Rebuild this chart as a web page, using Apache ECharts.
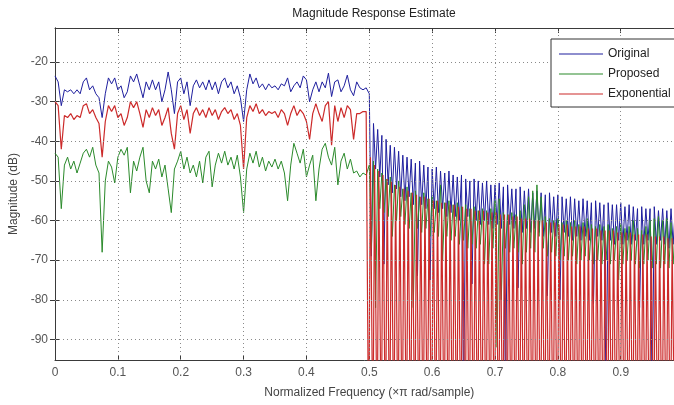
<!DOCTYPE html>
<html>
<head>
<meta charset="utf-8">
<script src="https://cdn.jsdelivr.net/npm/echarts@6/dist/echarts.min.js"></script>
<style>
html,body{margin:0;padding:0;background:#fff}
#chart{width:674px;height:405px}
</style>
</head>
<body>
<div id="chart"></div>
<script>
// Passband samples every PASS_STEP (normalized frequency 0 .. 0.495)
const PASS_STEP = 0.005;
// Stopband: sidelobe period and start frequency; red nulls fall below the axis floor
const STOP_START = 0.5;
const LOBE = 1 / 150;
const NULL_DB = -120;

// Magnitude (dB), passband
const origPass = [
  -23.5,-25,-31,-27,-27.5,-27,-28,-27,-28,-25,
  -24,-27,-26,-28,-29,-34,-28,-24,-25.5,-24,
  -27,-26,-29,-27.5,-23.5,-25,-23,-26,-29,-25,
  -27,-24.5,-27,-25,-30,-27,-22.5,-27,-33,-25,
  -24,-28,-25,-31,-26,-24.5,-26.5,-25,-27,-24.5,
  -27,-25,-28,-25,-24,-26.5,-25,-28,-26,-29,
  -35,-27,-23,-25.5,-24,-26.5,-25.5,-27,-25.5,-26.5,
  -26,-27,-25.5,-26,-24,-27.5,-26,-25,-26.5,-23.5,
  -24.5,-30,-27,-25,-27.5,-25,-26.5,-22.8,-28.7,-25,
  -24.5,-27.5,-26,-23.3,-27,-28.5,-25,-26.5,-27,-26.5
];
const propPass = [
  -43,-44,-57,-46,-44,-47,-45,-48,-45.5,-43,
  -42,-44,-41.5,-46,-48,-68,-50,-45,-46.5,-50.5,
  -44,-42,-43.5,-41.5,-53,-45,-47.5,-44,-41.5,-50,
  -53,-45,-47,-44.5,-49,-46,-52,-58,-47,-45,
  -42.5,-47,-44,-48,-46,-49,-45,-50.5,-44,-42.5,
  -51.5,-46,-43,-45.5,-42.5,-46,-44,-47,-43.5,-49,
  -58,-47,-43,-45.5,-42.5,-46.5,-44,-47.5,-45,-46.5,
  -44.5,-47,-45,-48,-55,-46,-40.5,-43,-45.5,-42,
  -49,-46,-43.5,-55,-47,-42,-40.5,-44,-46,-41.5,
  -51,-45,-43,-47,-44.5,-48,-47.5,-49,-48,-48.5
];
const expPass = [
  -30,-31,-42,-33.5,-34,-33,-34.5,-33.5,-34,-31,
  -30.5,-33,-32,-34,-35.5,-44,-35,-31,-32.5,-31,
  -34,-33,-36,-34,-30,-31.5,-30,-33,-36.5,-32,
  -34,-31.5,-33.5,-32,-36,-34,-31.5,-38,-42,-33,
  -31,-34.5,-32,-38,-33,-31.5,-33.5,-32,-34,-31.5,
  -33.5,-32,-34.5,-32.5,-31.5,-33,-32,-34.5,-33,-36,
  -47,-34,-31,-32.5,-30.5,-33,-32,-33.5,-32.5,-33,
  -32.5,-34,-32,-33,-36,-33,-31,-33.5,-32,-33,
  -35,-39.5,-33,-30.5,-33,-35,-31,-30,-41,-31,
  -35,-31.5,-34,-31,-32,-39.5,-33,-33,-32.5,-32.5
];

// Stopband: lobe tops at STOP_START + k*LOBE, dips at STOP_START + (k+0.5)*LOBE
const origPeaks = [
  -28,-35.5,-37,-38.5,-39.5,-41,-41.5,-42.5,-43.5,-44,
  -44.5,-45.5,-45,-46,-46.5,-47,-46.5,-47.5,-48,-47.5,
  -48.5,-49,-48.5,-49.5,-50,-49.5,-50,-50.5,-50,-51,
  -51,-50.5,-51.5,-51,-52,-52,-51.5,-52.5,-52,-53,
  -52.5,-53,-53.5,-53,-54,-53.5,-54,-54.5,-54,-54.5,
  -55,-54.5,-55,-55.5,-55,-55.5,-56,-55.5,-56,-56,
  -55.5,-56.5,-56,-56.5,-57,-56.5,-57,-57,-56.5,-57.5,
  -57,-57.5,-57,-57.5,-58,-57.5
];
const origDips = [
  -69,-47,-49,-71,-51,-53,-52,-54,-55,-54,
  -56,-74,-56,-57,-75,-57,-58,-57,-59,-58,
  -59,-60,-105,-59,-76,-60,-61,-60,-61,-62,
  -61,-62,-105,-61,-62,-77,-63,-62,-63,-62,
  -63,-64,-79,-63,-64,-80,-63,-64,-65,-64,
  -65,-64,-65,-81,-64,-65,-105,-65,-66,-65,
  -66,-65,-66,-65,-82,-66,-65,-105,-66,-65,
  -66,-67,-66,-65,-66
];
const propPeaks = [
  -46,-45,-47,-48,-49.5,-49,-51,-50,-52,-51.5,
  -53,-52.5,-54,-53,-54.5,-54,-55,-51,-55.5,-55,
  -56,-55.5,-56.5,-56,-57,-56.5,-57.5,-57,-57.5,-57,
  -55,-54.5,-58,-58.5,-58,-58.5,-57.5,-56,-54,-52.5,
  -51,-54,-59,-59.5,-60,-59.5,-60.5,-60,-60.5,-60,
  -61,-60.5,-59.5,-61,-61.5,-61,-61.5,-61,-62,-61.5,
  -61,-62,-61.5,-60,-62,-62.5,-61.5,-60,-59.5,-59,
  -60,-59.5,-60.5,-61.5,-62.5,-62
];
const propDips = [
  -67,-82,-57,-58,-59,-64,-60,-59,-61,-62,
  -82,-62,-63,-62,-64,-63,-64,-70,-64,-65,
  -64,-66,-65,-67,-66,-67,-66,-71,-71,-67,
  -92,-80,-67,-68,-67,-68,-71,-68,-67,-68,
  -64,-67,-69,-68,-69,-70,-69,-70,-69,-71,
  -70,-69,-70,-71,-70,-71,-70,-71,-70,-75,
  -71,-70,-70,-71,-72,-71,-70,-72,-71,-72,
  -71,-72,-71,-72,-85
];
// Exponential: top of each lobe between nulls at STOP_START + k*LOBE
const expLobes = [
  -44,-46,-47.5,-48.5,-49.5,-50,-51,-51.5,-52,-52.5,
  -53,-53.5,-54,-54,-54.5,-55,-55,-55.5,-55.5,-56,
  -56,-56.5,-56.5,-57,-57,-57.5,-57.5,-57.5,-58,-58,
  -58,-58.5,-58.5,-58.5,-59,-59,-59.5,-59.5,-59.5,-60,
  -60,-60,-60.5,-60.5,-60.5,-61,-61,-61,-61.5,-61.5,
  -61.5,-61.5,-62,-62,-62,-62.5,-62.5,-62.5,-62.5,-63,
  -63,-63,-63,-63.5,-63.5,-63.5,-63.5,-64,-64,-64,
  -64,-64.5,-64.5,-64.5,-64.5
];

const yTicks = [-90, -80, -70, -60, -50, -40, -30, -20];
const xGrid = [0.1, 0.2, 0.3, 0.4, 0.5, 0.6, 0.7, 0.8, 0.9];

function passPoints(vals) {
  return vals.map((v, i) => [+(i * PASS_STEP).toFixed(4), v]);
}
// alternating lobe tops and dips
function zigzag(pass, peaks, dips) {
  const pts = passPoints(pass);
  peaks.forEach((p, k) => {
    pts.push([STOP_START + k * LOBE, p]);
    if (k < dips.length) pts.push([STOP_START + (k + 0.5) * LOBE, dips[k]]);
  });
  return pts;
}
// flat lobe tops separated by narrow deep nulls
function lobes(pass, tops) {
  const pts = passPoints(pass);
  const n = tops.length;
  for (let k = 0; k <= n; k++) {
    const x0 = STOP_START + k * LOBE;
    if (k > 0) pts.push([x0 - 0.27 * LOBE, tops[k - 1]]);
    pts.push([x0 - 0.14 * LOBE, NULL_DB]);
    pts.push([x0 + 0.14 * LOBE, NULL_DB]);
    if (k < n) pts.push([x0 + 0.27 * LOBE, tops[k]]);
  }
  return pts;
}

const FONT = '"Liberation Sans", Arial, sans-serif';
const AX = '#3a3a3a';
const LBL = '#555';

const lineSeries = (name, color, data, width) => ({
  name, type: 'line', data, color,
  showSymbol: false, symbol: 'none',
  lineStyle: { width: width || 1, color },
  animation: false, silent: true, clip: true
});

const chart = echarts.init(document.getElementById('chart'), null, { renderer: 'canvas' });
const ymin = -95.2, ymax = -11.4;

const expSeries = lineSeries('Exponential', '#cc2a2a', lobes(expPass, expLobes), 1.2);
expSeries.markLine = {
  silent: true, symbol: ['none', 'none'], z: 5,
  label: { show: false },
  lineStyle: { color: '#8a8a8a', type: [1, 3], width: 1 },
  data: [
    ...yTicks.map(v => ({ yAxis: v })),
    ...xGrid.map(v => ({ xAxis: v }))
  ],
  animation: false
};

chart.setOption({
  animation: false,
  backgroundColor: '#fff',
  textStyle: { fontFamily: FONT },
  title: {
    text: 'Magnitude Response Estimate',
    left: 369, top: 3, textAlign: 'center',
    textStyle: { fontSize: 12, fontWeight: 'normal', color: '#222', fontFamily: FONT }
  },
  grid: { left: 55, top: 28, width: 628.6, height: 332, containLabel: false, outerBoundsMode: 'none' },
  legend: {
    data: ['Original', 'Proposed', 'Exponential'],
    orient: 'vertical', left: 551, top: 39,
    icon: 'rect', itemWidth: 44, itemHeight: 1, itemGap: 8,
    padding: [9, 30, 7, 8],
    backgroundColor: '#fff', borderColor: '#333', borderWidth: 1, borderRadius: 0,
    textStyle: { fontSize: 12, color: '#222', fontFamily: FONT },
    selectedMode: false, z: 10
  },
  xAxis: [{
    type: 'value', min: 0, max: 1, interval: 0.1,
    name: 'Normalized Frequency (\u00d7\u03c0 rad/sample)',
    nameLocation: 'middle', nameGap: 27,
    nameTextStyle: { fontSize: 12, color: '#444', fontFamily: FONT },
    axisLine: { show: true, lineStyle: { color: AX, width: 1 } },
    axisTick: { show: true, inside: true, length: 5, lineStyle: { color: AX } },
    axisLabel: { fontSize: 12, color: LBL, margin: 7, fontFamily: FONT,
      formatter: v => String(+v.toFixed(1)) },
    splitLine: { show: false }
  }, {
    type: 'value', position: 'top', min: 0, max: 1, interval: 0.1,
    axisLine: { show: true, lineStyle: { color: AX, width: 1 } },
    axisTick: { show: true, inside: true, length: 5, lineStyle: { color: AX } },
    axisLabel: { show: false }, splitLine: { show: false }
  }],
  yAxis: [{
    type: 'value', min: ymin, max: ymax,
    name: 'Magnitude (dB)', nameLocation: 'middle', nameGap: 33,
    nameTextStyle: { fontSize: 12, color: '#444', fontFamily: FONT },
    axisLine: { show: true, lineStyle: { color: AX, width: 1 } },
    axisTick: { show: true, inside: true, length: 5, customValues: yTicks, lineStyle: { color: AX } },
    axisLabel: { fontSize: 12, color: LBL, margin: 7, customValues: yTicks, fontFamily: FONT },
    splitLine: { show: false }
  }, {
    type: 'value', position: 'right', min: ymin, max: ymax,
    axisLine: { show: true, lineStyle: { color: AX, width: 1 } },
    axisTick: { show: true, inside: true, length: 5, customValues: yTicks, lineStyle: { color: AX } },
    axisLabel: { show: false }, splitLine: { show: false }
  }],
  series: [
    lineSeries('Original', '#1f1f9e', zigzag(origPass, origPeaks, origDips)),
    lineSeries('Proposed', '#2b8a2b', zigzag(propPass, propPeaks, propDips)),
    expSeries
  ]
});
</script>
</body>
</html>
